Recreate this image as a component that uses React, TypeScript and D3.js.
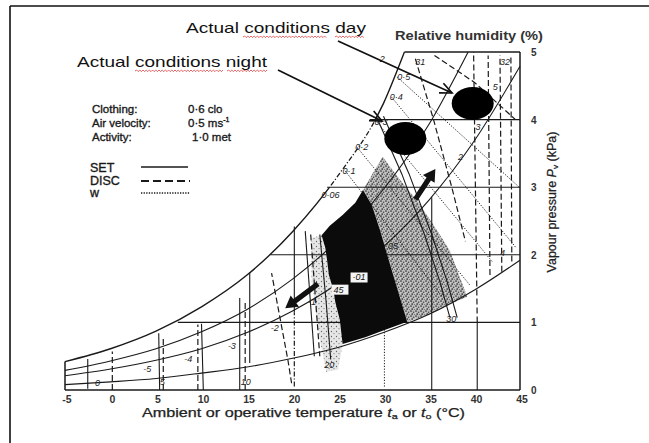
import React from 'react';
import * as d3 from 'd3';

type P = [number, number];

// ---- axis ticks ----
const X_TICKS = [-5, 0, 5, 10, 15, 20, 25, 30, 35, 40, 45];
const Y_TICKS = [0, 1, 2, 3, 4, 5];

// ---- psychrometric curves (t °C, vapour pressure kPa) ----
const SATURATION: P[] = [[-5, 0.42], [0, 0.61], [5, 0.87], [10, 1.23], [15, 1.7], [20, 2.34], [25, 3.17], [30, 4.24], [32.3, 5.0]];
const RH70: P[] = [[-5, 0.29], [0, 0.43], [5, 0.61], [10, 0.86], [15, 1.19], [20, 1.64], [25, 2.22], [30, 2.97], [35, 3.93], [39.3, 5.0]];
const RH50: P[] = [[-5, 0.21], [0, 0.31], [5, 0.44], [10, 0.61], [15, 0.85], [20, 1.17], [25, 1.58], [30, 2.12], [35, 2.81], [40, 3.69], [45, 4.79]];
const RH20: P[] = [[-5, 0.08], [0, 0.12], [5, 0.17], [10, 0.25], [15, 0.34], [20, 0.47], [25, 0.63], [30, 0.85], [35, 1.12], [40, 1.48], [45, 1.92]];

const VP_GRID = [1, 2, 3, 4];
const VP_GRID_START = [7.4, 17.6, 23.8, 28.5];
const TOP_LINE: P[] = [[32.3, 5], [45, 5]];
const SAT_DASHDOT_BAND: [number, number] = [3, 4]; // kPa range drawn dash-dot on the saturation curve

// ---- SET lines (solid) ----
const SET_LINES: P[][] = [
  [[-2.5, 0.02], [-2.5, 0.46]],
  [[5.4, 0], [5.3, 0.84]],
  [[10.2, 0], [10.0, 0.98]],
  [[14.2, 0], [14.2, 1.36]],
  [[15.3, 0.4], [15.3, 1.74]],
  [[20.2, 1.15], [20.2, 2.42]],
  [[21.4, 2.35], [22.4, 0.5]],
  [[23.0, 2.3], [23.7, 1.3], [24.2, 0.45]],
  [[29.2, 4.05], [32.0, 3.2], [34.5, 2.3], [36.2, 1.6], [37.3, 1.07]],
  [[30.0, 4.05], [32.8, 3.2], [35.3, 2.3], [37.0, 1.6], [38.1, 1.07]],
  [[35.3, 0], [35.3, 2.85]],
  [[40.3, 0], [40.3, 1.0]],
];

// ---- DISC lines (dashed) ----
const DISC_LINES: P[][] = [
  [[0.2, 0], [0.2, 0.57]],
  [[5.8, 0], [5.8, 0.8]],
  [[9.6, 0], [9.6, 0.97]],
  [[14.8, 0], [14.8, 1.3]],
  [[19.9, 0.1], [19.5, 0.44], [17.7, 1.73]],
  [[22.0, 2.3], [23.0, 0.5]],
  [[40.3, 1.0], [40.1, 3.0], [39.9, 5.0]],
  [[41.7, 1.7], [41.5, 4.95]],
  [[43.0, 1.75], [42.8, 4.95]],
  [[44.1, 1.9], [44.0, 4.95]],
  [[35.6, 4.95], [40.0, 4.55], [44.5, 4.0]],
  [[33.5, 4.9], [35.5, 4.0], [37.5, 3.0], [39.0, 2.2]],
];

// ---- skin wettedness w lines (dotted) ----
const W_LINES: P[][] = [
  [[30.1, 0.05], [30.1, 0.9]],
  [[25.8, 3.24], [36.4, 1.39]],
  [[27.1, 3.59], [39.5, 1.55]],
  [[29.3, 3.96], [42.0, 1.89]],
  [[30.9, 4.33], [44.6, 2.1]],
  [[31.5, 4.63], [45.0, 2.99]],
];
const DASHDOT_LINES: P[][] = [[[20.2, 0.05], [20.2, 1.15]]];

// ---- shaded zones ----
const COMFORT_ZONE: P[] = [
  [27.75, 2.96], [28.7, 2.74], [29.6, 2.37], [31.0, 1.73], [32.6, 1.01], [30.2, 0.89], [28.0, 0.78],
  [25.5, 0.68], [25.2, 1.04], [24.7, 1.3], [24.5, 1.48], [24.0, 1.7], [23.8, 1.92], [23.6, 2.1],
  [23.2, 2.29], [24.1, 2.43], [25.5, 2.59], [26.9, 2.77],
];
const STIPPLE_ZONE: P[] = [
  [27.75, 2.96], [29.9, 3.45], [31.8, 3.11], [33.7, 2.8], [35.7, 2.4], [37.3, 2.06], [39.2, 1.38],
  [37.3, 1.27], [35.1, 1.12], [32.6, 1.01], [31.0, 1.73], [29.6, 2.37], [28.7, 2.74],
];
const LIGHT_ZONE: P[] = [
  [22.1, 2.25], [23.2, 2.29], [23.8, 1.92], [24.5, 1.48], [25.2, 1.04], [25.5, 0.68], [25.0, 0.3],
  [23.7, 0.27], [22.8, 0.89], [22.1, 1.63],
];

// ---- direction arrows on chart (tail -> tip) ----
const CHART_ARROWS: [P, P][] = [
  [[22.8, 1.57], [19.2, 1.21]],
  [[33.5, 2.82], [35.7, 3.27]],
];

// ---- small labels on the chart ----
const CHART_LABELS: { text: string; t: number; p: number }[] = [
  { text: '0·5', t: 31.5, p: 4.59 },
  { text: '0·4', t: 30.7, p: 4.29 },
  { text: '0·3', t: 29.0, p: 3.92 },
  { text: '0·2', t: 26.9, p: 3.55 },
  { text: '0·1', t: 25.5, p: 3.2 },
  { text: '0·06', t: 23.2, p: 2.84 },
  { text: '05', t: 30.5, p: 2.09 },
  { text: '2', t: 29.6, p: 4.85 },
  { text: '31', t: 33.5, p: 4.81 },
  { text: '32', t: 42.8, p: 4.81 },
  { text: '5', t: 42.0, p: 4.44 },
  { text: '3', t: 40.1, p: 3.85 },
  { text: '2', t: 38.2, p: 3.4 },
  { text: '4', t: 42.8, p: 1.98 },
  { text: '30', t: 36.9, p: 1.0 },
  { text: '20', t: 23.5, p: 0.33 },
  { text: '10', t: 14.3, p: 0.07 },
  { text: '5', t: 5.4, p: 0.07 },
  { text: '0', t: -1.7, p: 0.06 },
  { text: '-5', t: 3.6, p: 0.27 },
  { text: '-4', t: 8.1, p: 0.41 },
  { text: '-3', t: 12.9, p: 0.61 },
  { text: '-2', t: 17.6, p: 0.87 },
  { text: '-1', t: 21.7, p: 1.26 },
];
const BOXED_LABELS: { text: string; t: number; p: number }[] = [
  { text: '·01', t: 26.6, p: 1.62 },
  { text: '45', t: 24.5, p: 1.44 },
];

// ---- legend / conditions ----
const CONDITIONS = ['Clothing:', 'Air velocity:', 'Activity:'];
const CONDITION_VALUES = ['0·6 clo', '0·5 ms', '1·0 met'];
const LEGEND_NAMES = ['SET', 'DISC', 'w'];

// ---- actual conditions (t, p) ----
const ACTUAL_DAY: P = [39.8, 4.24];
const ACTUAL_NIGHT: P = [32.4, 3.72];

function squiggle(x0: number, x1: number, yy: number) {
  let d = `M${x0},${yy}`;
  let i = 0;
  for (let xx = x0 + 1.6; xx <= x1; xx += 1.6, i++) {
    d += ` L${xx.toFixed(1)},${(yy + (i % 2 === 0 ? -1 : 0.6)).toFixed(1)}`;
  }
  return d;
}

export default function App() {
  const x = d3.scaleLinear().domain([-5, 45]).range([65, 520]);
  const y = d3.scaleLinear().domain([0, 5]).range([390, 52]);
  const ln = d3.line<P>().x((d) => x(d[0])).y((d) => y(d[1]));
  const sm = d3.line<P>().x((d) => x(d[0])).y((d) => y(d[1])).curve(d3.curveMonotoneX);
  const poly = (pts: P[]) => pts.map((d) => `${x(d[0]).toFixed(1)},${y(d[1]).toFixed(1)}`).join(' ');

  const filledArrow = (tail: P, tip: P) => {
    const x0 = x(tail[0]), y0 = y(tail[1]), x1 = x(tip[0]), y1 = y(tip[1]);
    const L = Math.hypot(x1 - x0, y1 - y0);
    const ux = (x1 - x0) / L, uy = (y1 - y0) / L;
    const nx = -uy, ny = ux;
    const hl = 12, sw = 2.6, hw = 7;
    const bx = x1 - ux * hl, by = y1 - uy * hl;
    const pts = [
      [x0 + nx * sw, y0 + ny * sw], [bx + nx * sw, by + ny * sw], [bx + nx * hw, by + ny * hw], [x1, y1],
      [bx - nx * hw, by - ny * hw], [bx - nx * sw, by - ny * sw], [x0 - nx * sw, y0 - ny * sw],
    ];
    return pts.map((p) => p.join(',')).join(' ');
  };

  const openArrow = (x0: number, y0: number, x1: number, y1: number) => {
    const a = Math.atan2(y1 - y0, x1 - x0);
    const L = 13, s = 0.42;
    const b1 = [x1 - L * Math.cos(a - s), y1 - L * Math.sin(a - s)];
    const b2 = [x1 - L * Math.cos(a + s), y1 - L * Math.sin(a + s)];
    return (
      <g stroke="#111" strokeWidth={1.7} fill="none">
        <line x1={x0} y1={y0} x2={x1} y2={y1} />
        <polyline points={`${b1.join(',')} ${x1},${y1} ${b2.join(',')}`} />
      </g>
    );
  };

  const sc = '#1a1a1a';
  const satStart = SATURATION[0];
  const satPath = sm(SATURATION) || '';
  const bandTop = y(SAT_DASHDOT_BAND[1]);
  const bandBot = y(SAT_DASHDOT_BAND[0]);

  return (
    <svg width={649} height={443} style={{ position: 'absolute', left: 0, top: 0 }}
      fontFamily="'Liberation Sans', Arial, Helvetica, sans-serif">
      <defs>
        <pattern id="stip" width="5" height="5" patternUnits="userSpaceOnUse">
          <rect width="5" height="5" fill="#bdbdbd" />
          <circle cx="1" cy="1" r="0.85" fill="#333" />
          <circle cx="3.6" cy="2.2" r="0.75" fill="#444" />
          <circle cx="2.2" cy="4" r="0.85" fill="#2a2a2a" />
          <circle cx="4.5" cy="4.6" r="0.5" fill="#666" />
          <circle cx="0.2" cy="3" r="0.4" fill="#fff" />
        </pattern>
        <pattern id="lightstip" width="5" height="5" patternUnits="userSpaceOnUse">
          <rect width="5" height="5" fill="#e6e6e6" />
          <circle cx="1.5" cy="1.5" r="0.65" fill="#666" />
          <circle cx="4" cy="3.6" r="0.6" fill="#777" />
        </pattern>
        <clipPath id="satOut">
          <rect x={0} y={0} width={649} height={bandTop} />
          <rect x={0} y={bandBot} width={649} height={443 - bandBot} />
        </clipPath>
        <clipPath id="satIn">
          <rect x={0} y={bandTop} width={649} height={bandBot - bandTop} />
        </clipPath>
      </defs>
      <rect width={649} height={443} fill="#fff" />

      {/* page frame */}
      <line x1={10} y1={6} x2={649} y2={6} stroke="#111" strokeWidth={1.6} />
      <line x1={10} y1={6} x2={10} y2={443} stroke="#111" strokeWidth={1.6} />

      {/* shaded zones */}
      <polygon points={poly(LIGHT_ZONE)} fill="url(#lightstip)" />
      <polygon points={poly(STIPPLE_ZONE)} fill="url(#stip)" />

      {/* chart frame */}
      <g stroke={sc} fill="none" strokeWidth={1.5}>
        <line x1={x(-5)} y1={y(0)} x2={x(45)} y2={y(0)} />
        <line x1={x(-5)} y1={y(0)} x2={x(-5)} y2={y(satStart[1])} />
        <line x1={x(45)} y1={y(0)} x2={x(45)} y2={y(5)} />
        <path d={ln(TOP_LINE) || ''} />
        <path d={satPath} strokeWidth={1.4} clipPath="url(#satOut)" />
        <path d={satPath} strokeWidth={1.3} strokeDasharray="5,2,1.2,2" clipPath="url(#satIn)" />
      </g>

      {/* RH curves */}
      <g stroke={sc} fill="none" strokeWidth={1.1}>
        <path d={sm(RH70) || ''} />
        <path d={sm(RH50) || ''} />
        <path d={sm(RH20) || ''} />
      </g>

      {/* vapour pressure grid */}
      <g stroke={sc} strokeWidth={1.1}>
        {VP_GRID.map((p, i) => (
          <line key={p} x1={x(VP_GRID_START[i])} y1={y(p)} x2={x(45)} y2={y(p)} />
        ))}
      </g>

      {/* SET / DISC / w lines */}
      <g stroke={sc} fill="none" strokeWidth={1.1}>
        {SET_LINES.map((l, i) => <path key={'s' + i} d={ln(l) || ''} />)}
      </g>
      <g stroke={sc} fill="none" strokeWidth={1.2} strokeDasharray="6,3">
        {DISC_LINES.map((l, i) => <path key={'d' + i} d={ln(l) || ''} />)}
      </g>
      <g stroke={sc} fill="none" strokeWidth={1} strokeDasharray="1.2,1.6">
        {W_LINES.map((l, i) => <path key={'w' + i} d={ln(l) || ''} />)}
      </g>
      <g stroke={sc} fill="none" strokeWidth={1.2} strokeDasharray="5,2,1.2,2">
        {DASHDOT_LINES.map((l, i) => <path key={'dd' + i} d={ln(l) || ''} />)}
      </g>

      {/* comfort zone (black) */}
      <polygon points={poly(COMFORT_ZONE)} fill="#0b0b0b" />

      {/* direction arrows */}
      {CHART_ARROWS.map((a, i) => (
        <polygon key={'a' + i} points={filledArrow(a[0], a[1])} fill="#111" />
      ))}

      {/* chart labels */}
      <g fontSize={9} fontStyle="italic" fill="#222">
        {CHART_LABELS.map((l, i) => (
          <text key={'l' + i} x={x(l.t)} y={y(l.p)}>{l.text}</text>
        ))}
      </g>
      {BOXED_LABELS.map((l, i) => (
        <g key={'b' + i}>
          <rect x={x(l.t) - 2} y={y(l.p) - 8} width={17} height={10} fill="#f4f4f4" />
          <text x={x(l.t)} y={y(l.p)} fontSize={9} fontStyle="italic" fill="#111">{l.text}</text>
        </g>
      ))}

      {/* x tick labels */}
      <g fontSize={10.5} fontWeight="bold" fill="#333" textAnchor="middle">
        {X_TICKS.map((t) => (
          <text key={'xt' + t} x={x(t) + 2} y={403}>{t}</text>
        ))}
      </g>
      {/* y tick labels */}
      <g fontSize={10} fontWeight="bold" fill="#333">
        {Y_TICKS.map((p) => (
          <text key={'yt' + p} x={x(45) + 11} y={y(p) + 4}>{p}</text>
        ))}
      </g>

      {/* axis titles */}
      <text x={142} y={417} fontSize={12} fill="#222" stroke="#222" strokeWidth={0.25}
        textLength={323} lengthAdjust="spacingAndGlyphs">
        Ambient or operative temperature <tspan fontStyle="italic">t</tspan>
        <tspan fontSize={8} dy={2}>a</tspan>
        <tspan dy={-2}> or </tspan>
        <tspan fontStyle="italic">t</tspan>
        <tspan fontSize={8} dy={2}>o</tspan>
        <tspan dy={-2}> (°C)</tspan>
      </text>
      <text transform="translate(556,202) rotate(-90)" textAnchor="middle" fontSize={12} fill="#222"
        stroke="#222" strokeWidth={0.25} textLength={141} lengthAdjust="spacingAndGlyphs">
        Vapour pressure <tspan fontStyle="italic">P</tspan>
        <tspan fontSize={8} dy={2}>v</tspan>
        <tspan dy={-2}> (kPa)</tspan>
      </text>
      <text x={395} y={40} fontSize={12} fontWeight="bold" fill="#333" textLength={148} lengthAdjust="spacingAndGlyphs">
        Relative humidity (%)
      </text>

      {/* conditions legend */}
      <g fontSize={11.5} fill="#1a1a1a" stroke="#1a1a1a" strokeWidth={0.35}>
        {CONDITIONS.map((c, i) => (
          <text key={c} x={92} y={113 + i * 14}>{c}</text>
        ))}
        <text x={188} y={113}>{CONDITION_VALUES[0]}</text>
        <text x={188} y={127}>{CONDITION_VALUES[1]}<tspan fontSize={7} dy={-5}>-1</tspan></text>
        <text x={192} y={141}>{CONDITION_VALUES[2]}</text>
      </g>
      <g fontSize={12.5} fill="#1a1a1a" stroke="#1a1a1a" strokeWidth={0.35}>
        {LEGEND_NAMES.map((n, i) => (
          <text key={n} x={90} y={172 + i * 12.5}>{n}</text>
        ))}
      </g>
      <line x1={141} y1={167} x2={188} y2={167} stroke="#1a1a1a" strokeWidth={1.6} />
      <line x1={141} y1={181} x2={190} y2={181} stroke="#1a1a1a" strokeWidth={1.8} strokeDasharray="8,4" />
      <line x1={141} y1={193} x2={190} y2={193} stroke="#1a1a1a" strokeWidth={1.3} strokeDasharray="1.3,1.3" />

      {/* actual conditions */}
      <ellipse cx={x(ACTUAL_DAY[0])} cy={y(ACTUAL_DAY[1])} rx={21} ry={16.5} fill="#000" />
      <ellipse cx={x(ACTUAL_NIGHT[0])} cy={y(ACTUAL_NIGHT[1])} rx={21} ry={16.5} fill="#000" />

      {openArrow(338, 41, 452, 93)}
      {openArrow(278, 70, 382, 121)}

      <text x={186} y={33} fontSize={15} fill="#111" textLength={180} lengthAdjust="spacingAndGlyphs">Actual conditions day</text>
      <text x={77} y={67} fontSize={15} fill="#111" textLength={190} lengthAdjust="spacingAndGlyphs">Actual conditions night</text>
      <g stroke="#e03a3a" strokeWidth={0.8} fill="none">
        <path d={squiggle(243, 327, 37)} />
        <path d={squiggle(335, 365, 37)} />
        <path d={squiggle(135, 223, 71)} />
        <path d={squiggle(227, 268, 71)} />
      </g>
    </svg>
  );
}
